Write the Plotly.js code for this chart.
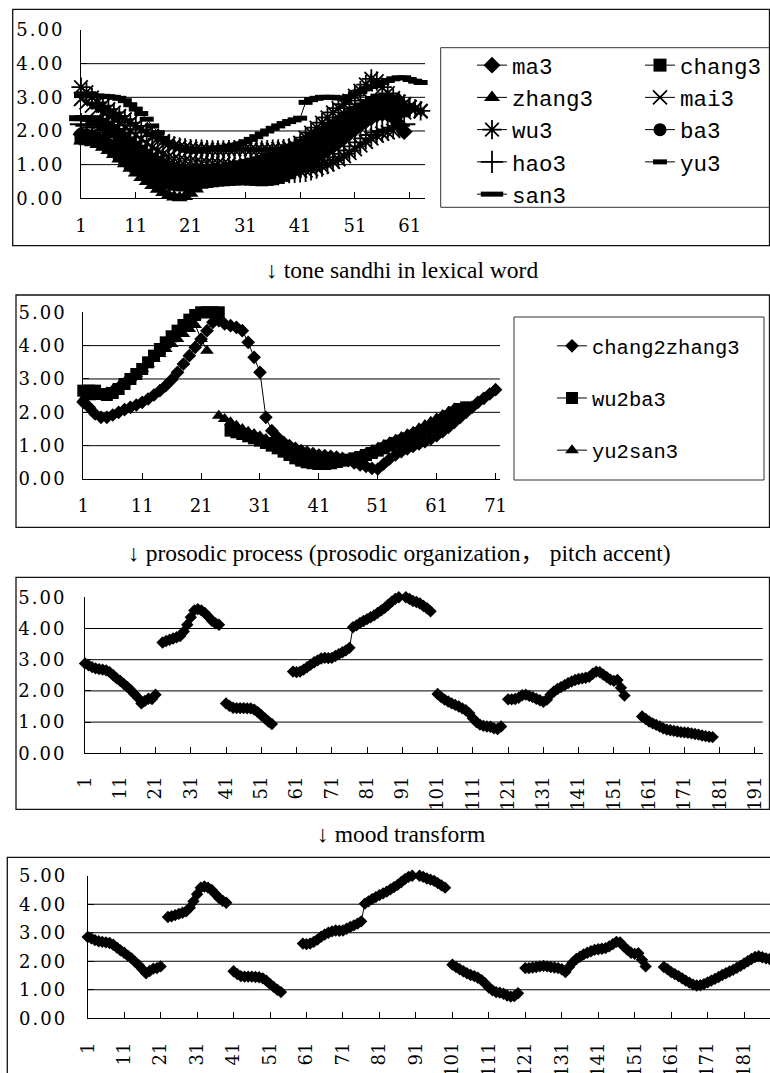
<!DOCTYPE html>
<html>
<head>
<meta charset="utf-8">
<script src="https://cdn.plot.ly/plotly-3.0.1.min.js"></script>
<style>
html,body{margin:0;padding:0;background:#fff;}
#chart{width:770px;height:1073px;}
.yaxislayer-above text{letter-spacing:2px;}
</style>
</head>
<body>
<div id="chart"></div>
<script>
// ---------- Panel 1: citation tones ----------
const ma3 = [1.90,1.85,1.80,1.72,1.64,1.56,1.48,1.40,1.32,1.24,
 1.16,1.08,1.00,0.93,0.86,0.80,0.75,0.70,0.68,0.66,
 0.65,0.65,0.66,0.67,0.68,0.69,0.70,0.70,0.71,0.72,
 0.72,0.73,0.74,0.75,0.76,0.78,0.80,0.83,0.87,0.92,
 0.98,1.05,1.13,1.22,1.32,1.43,1.55,1.67,1.80,1.93,
 2.06,2.18,2.30,2.40,2.48,2.52,2.50,2.40,2.20,1.98];
const chang3 = [1.80,1.78,1.75,1.70,1.62,1.52,1.40,1.28,1.16,1.05,
 0.95,0.85,0.75,0.66,0.58,0.50,0.45,0.42,0.40,0.40,
 0.42,0.45,0.48,0.50,0.52,0.54,0.55,0.56,0.57,0.58,
 0.58,0.57,0.56,0.55,0.56,0.58,0.62,0.68,0.76,0.86,
 0.98,1.10,1.22,1.35,1.48,1.60,1.73,1.86,1.98,2.10,
 2.22,2.34,2.46,2.58,2.68,2.76,2.82,2.80,2.70,2.60];
const zhang3 = [1.70,1.68,1.65,1.60,1.52,1.42,1.30,1.17,1.03,0.89,
 0.75,0.62,0.50,0.38,0.27,0.17,0.09,0.04,0.02,0.05,
 0.15,0.28,0.40,0.50,0.58,0.64,0.69,0.73,0.77,0.80,
 0.83,0.85,0.87,0.89,0.91,0.93,0.95,0.97,0.99,1.02,
 1.06,1.11,1.18,1.26,1.36,1.47,1.59,1.72,1.85,1.98,
 2.11,2.24,2.37,2.50,2.62,2.74,2.85,2.92,2.95];
const mai3 = [2.95,2.85,2.75,2.65,2.55,2.45,2.35,2.25,2.12,2.00,
 1.88,1.76,1.64,1.52,1.42,1.32,1.24,1.18,1.14,1.12,
 1.10,1.08,1.06,1.05,1.04,1.03,1.02,1.00,0.98,0.96,
 0.94,0.92,0.90,0.88,0.86,0.85,0.84,0.83,0.82,0.82,
 0.82,0.83,0.86,0.90,0.95,1.01,1.08,1.16,1.25,1.35,
 1.46,1.57,1.68,1.78,1.86,1.92,1.96,2.00,2.30,2.55,
 2.70,2.66,2.58,2.52];
const wu3 = [3.30,3.15,3.00,2.85,2.75,2.65,2.55,2.45,2.35,2.25,
 2.15,2.05,1.95,1.85,1.78,1.70,1.62,1.56,1.52,1.50,
 1.48,1.47,1.46,1.45,1.44,1.44,1.44,1.45,1.45,1.46,
 1.46,1.45,1.44,1.44,1.45,1.46,1.47,1.48,1.50,1.55,
 1.65,1.80,1.95,2.10,2.25,2.40,2.55,2.68,2.80,2.90,
 3.05,3.20,3.38,3.55,3.48,3.30,3.12,2.98,2.88,2.80,
 2.72,2.66,2.60,2.55];
const ba3 = [1.90,1.88,1.84,1.78,1.70,1.60,1.50,1.40,1.30,1.20,
 1.10,1.02,0.95,0.90,0.86,0.83,0.81,0.80,0.79,0.79,
 0.79,0.80,0.80,0.81,0.82,0.83,0.84,0.85,0.86,0.87,
 0.88,0.89,0.90,0.92,0.94,0.97,1.00,1.04,1.09,1.15,
 1.22,1.30,1.39,1.49,1.60,1.72,1.84,1.96,2.08,2.20,
 2.32,2.44,2.55,2.65,2.73,2.78,2.80,2.75,2.65];
const hao3 = [2.20,2.15,2.10,2.02,1.95,1.88,1.80,1.72,1.64,1.56,
 1.48,1.40,1.32,1.24,1.16,1.08,1.02,0.98,0.95,0.92,
 0.90,0.88,0.87,0.86,0.85,0.84,0.83,0.82,0.81,0.80,
 0.79,0.78,0.77,0.76,0.76,0.76,0.76,0.77,0.78,0.79,
 0.80,0.82,0.86,0.91,0.97,1.05,1.13,1.22,1.32,1.42,
 1.54,1.66,1.78,1.88,1.95,2.00,2.05,2.10,2.15,2.20];
const yu3 = [3.05,3.05,3.05,3.04,3.03,3.02,3.00,2.97,2.90,
 2.78,2.65,2.52,2.35,2.15,1.95,1.78,
 1.65,1.55,1.48,1.43,1.40,1.40,1.42,
 1.45,1.48,1.50,1.52,1.55,1.58,1.62,
 1.68,1.75,1.83,1.91,2.00,
 2.08,2.15,2.22,2.28,2.33,2.38,
 2.85,2.93,2.97,3.00,3.00,3.00,
 2.98,2.98,3.02,3.10,3.18,3.26,
 3.32,3.38,3.44,3.50,3.55,3.58,3.58,
 3.53,3.48,3.44];
const san3 = [2.38,2.38,2.36,2.30,2.22,2.12,2.00,1.88,1.75,1.62,
 1.50,1.38,1.26,1.15,1.05,0.97,0.90,0.84,0.80,0.78,
 0.77,0.77,0.78,0.80,0.82,0.85,0.88,0.92,0.96,1.00,
 1.04,1.08,1.12,1.16,1.20,1.25,1.30,1.36,1.42,1.50,
 1.58,1.67,1.76,1.86,1.96,2.06,2.16,2.26,2.36,2.46,
 2.56,2.66,2.76,2.86,2.95,3.02];

// ---------- Panel 2: tone sandhi in lexical word ----------
const chang2zhang3 = [2.30,2.15,1.95,1.85,1.85,1.92,2.00,2.08,2.15,2.22,
 2.30,2.40,2.52,2.65,2.80,2.98,3.20,3.45,3.70,3.95,
 4.20,4.45,4.70,4.75,4.65,4.60,4.55,4.45,4.10,3.65,
 3.20,1.85,1.45,1.25,1.10,1.00,0.92,0.85,0.80,0.76,
 0.72,0.70,0.68,0.66,0.62,0.55,0.48,0.42,0.38,0.32,
 0.30,0.45,0.60,0.72,0.82,0.90,0.98,1.05,1.12,1.20,
 1.30,1.42,1.55,1.70,1.85,2.00,2.15,2.30,2.42,2.55,
 2.68,2.62];
const wu2ba3 = [2.65,2.65,2.65,2.55,2.52,2.58,2.70,2.85,3.00,3.15,
 3.30,3.50,3.70,3.90,4.10,4.28,4.45,4.62,4.78,4.92,
 5.00,5.00,5.00,5.00,null,1.45,1.40,1.35,1.28,1.22,
 1.15,1.08,1.00,0.92,0.82,0.72,0.62,0.55,0.50,0.48,
 0.47,0.48,0.50,0.52,0.55,0.58,0.62,0.66,0.72,0.78,
 0.85,0.92,1.00,1.08,1.15,1.22,1.30,1.38,1.46,1.55,
 1.65,1.76,1.88,2.00,2.10,2.15];
const yu2san3 = [2.40,2.45,2.50,2.55,2.60,2.68,2.78,2.90,3.02,3.15,
 3.30,3.45,3.60,3.75,3.90,4.05,4.20,4.35,4.50,4.62,
 4.20,3.85,null,1.90,1.80,1.70,1.60,1.50,1.42,1.35,
 1.28,1.20,1.10,1.00,0.90,0.78,0.65,0.52,0.42,0.38,
 0.36,0.36,0.38,0.42,0.48,0.55,0.62,0.70,0.78,0.86,
 0.94,1.02,1.10,1.18,1.26,1.34,1.42,1.52,1.62,1.72,
 1.82,1.92,2.02,2.12];

// ---------- Panel 3: prosodic process ----------
const prosodicValues = [
 2.88,2.82,2.76,2.72,2.70,2.68,2.66,2.60,2.50,2.40,2.32,2.22,2.13,2.02,1.90,1.78,1.60,1.68,1.75,1.74,1.88,
 null,
 3.55,3.60,3.64,3.68,3.72,3.76,3.90,4.12,4.36,4.58,4.62,4.58,4.50,4.38,4.25,4.17,4.12,
 null,
 1.60,1.52,1.46,1.45,1.45,1.45,1.44,1.44,1.40,1.32,1.22,1.12,1.02,0.94,
 null,null,null,null,null,
 2.62,2.60,2.62,2.68,2.76,2.84,2.92,2.98,3.04,3.06,3.05,3.06,3.12,3.18,3.24,3.30,3.38,4.04,4.10,4.18,
 4.24,4.30,4.36,4.42,4.50,4.58,4.66,4.76,4.86,4.95,5.00,5.02,5.00,4.95,4.88,4.85,4.80,4.72,4.65,4.55,
 null,
 1.90,1.80,1.72,1.66,1.60,1.55,1.50,1.44,1.38,1.28,1.12,1.00,0.92,0.88,0.86,0.85,0.80,0.78,0.86,
 null,
 1.73,1.73,1.74,1.78,1.86,1.88,1.84,1.80,1.75,1.70,1.65,1.72,1.88,1.98,2.06,2.12,2.18,2.25,2.30,2.35,
 2.38,2.40,2.42,2.45,2.55,2.62,2.60,2.52,2.44,2.36,2.32,2.35,2.10,1.85,
 null,null,null,null,
 1.18,1.10,1.02,0.96,0.91,0.86,0.80,0.76,0.74,0.72,0.70,0.68,0.67,0.66,0.64,0.62,0.60,0.57,0.55,0.53,0.52
];

// ---------- Panel 4: mood transform ----------
const moodValues = [
 2.85,2.80,2.74,2.70,2.68,2.66,2.64,2.58,2.48,2.38,2.30,2.20,2.10,1.98,1.86,1.72,1.58,1.66,1.74,1.76,1.82,
 null,
 3.55,3.58,3.62,3.66,3.70,3.75,3.88,4.10,4.35,4.58,4.62,4.58,4.50,4.36,4.22,4.12,4.05,
 null,
 1.65,1.55,1.48,1.46,1.46,1.46,1.45,1.44,1.40,1.32,1.20,1.10,1.00,0.92,
 null,null,null,null,null,
 2.62,2.60,2.62,2.68,2.76,2.86,2.94,3.00,3.05,3.08,3.07,3.08,3.14,3.20,3.26,3.32,3.40,4.02,4.10,4.18,
 4.25,4.32,4.38,4.44,4.52,4.60,4.68,4.78,4.88,4.96,5.00,5.02,5.00,4.96,4.90,4.86,4.82,4.74,4.66,4.58,
 null,
 1.88,1.80,1.72,1.65,1.58,1.52,1.48,1.42,1.34,1.22,1.08,0.98,0.92,0.90,0.86,0.80,0.76,0.78,0.88,
 null,
 1.76,1.76,1.78,1.80,1.82,1.84,1.82,1.80,1.78,1.76,1.72,1.62,1.80,1.96,2.08,2.16,2.24,2.30,2.35,2.40,
 2.42,2.44,2.46,2.52,2.60,2.68,2.66,2.52,2.40,2.30,2.26,2.28,2.05,1.82,
 null,null,null,null,
 1.80,1.72,1.62,1.55,1.48,1.40,1.32,1.25,1.18,1.15,1.16,1.20,1.26,1.32,1.38,1.45,1.52,1.58,1.64,1.70,
 1.77,1.84,1.92,2.00,2.08,2.15,2.18,2.14,2.10,2.08,2.06
];

// ---------- Tick labels & captions ----------
const yTickValues = [0,1,2,3,4,5];
const gridValues = [1,2,3,4];
const p1TickLabels = ['1','11','21','31','41','51','61'];
const p2TickLabels = ['1','11','21','31','41','51','61','71'];
const p34TickLabels = ['1','11','21','31','41','51','61','71','81','91','101','111','121','131','141','151','161','171','181','191'];
const captions = ['↓ tone sandhi in lexical word',
  '↓ prosodic process (prosodic organization， pitch accent)',
  '↓ mood transform'];

// ---------- layout geometry (pixels) ----------
const W = 770, H = 1073;
const px = v => v / W;
const py = v => 1 - v / H;

const BLACK = '#000';
const tickFont = {family: 'DejaVu Serif, Liberation Serif, serif', size: 18, color: BLACK};

function seriesTrace(name, values, axisId, symbol, size, mlw, legendId, showlegend) {
  const open = ['x-thin','asterisk','cross-thin','line-ew'].includes(symbol);
  return {
    type: 'scatter', mode: 'lines+markers', name: name, legendgroup: name,
    x: values.map((_, i) => i + 1), y: values,
    xaxis: 'x' + (axisId === 1 ? '' : axisId), yaxis: 'y' + (axisId === 1 ? '' : axisId),
    line: {color: BLACK, width: 1},
    marker: {symbol: symbol, size: size, color: BLACK,
             line: {color: BLACK, width: open ? mlw : 0}},
    cliponaxis: false, connectgaps: false,
    showlegend: showlegend, legend: legendId || 'legend',
    hoverinfo: 'skip'
  };
}

const traces = [
  seriesTrace('ma3', ma3, 1, 'diamond', 13, 0, 'legend', true),
  seriesTrace('chang3', chang3, 1, 'square', 13, 0, 'legend2', true),
  seriesTrace('zhang3', zhang3, 1, 'triangle-up', 14, 0, 'legend', true),
  seriesTrace('mai3', mai3, 1, 'x-thin', 14, 1.8, 'legend2', true),
  seriesTrace('wu3', wu3, 1, 'asterisk', 16, 1.8, 'legend', true),
  seriesTrace('ba3', ba3, 1, 'circle', 13, 0, 'legend2', true),
  seriesTrace('hao3', hao3, 1, 'cross-thin', 16, 1.8, 'legend', true),
  seriesTrace('yu3', yu3, 1, 'line-ew', 10, 5, 'legend2', true),
  seriesTrace('san3', san3, 1, 'line-ew', 17, 6, 'legend', true),
  seriesTrace('chang2zhang3', chang2zhang3, 2, 'diamond', 10.5, 0, 'legend3', true),
  seriesTrace('wu2ba3', wu2ba3, 2, 'square', 12, 0, 'legend3', true),
  seriesTrace('yu2san3', yu2san3, 2, 'triangle-up', 12, 0, 'legend3', true),
  seriesTrace('prosodic', prosodicValues, 3, 'diamond', 9.5, 0, 'legend', false),
  seriesTrace('mood', moodValues, 4, 'diamond', 9.5, 0, 'legend', false)
];

function xAxis(domain, range, labels, anchor, angle, standoff) {
  return {
    domain: domain, range: range, anchor: anchor, type: 'linear',
    tickmode: 'array', tickvals: labels.map(Number), ticktext: labels,
    ticks: 'inside', ticklen: 6, tickwidth: 1, tickcolor: BLACK,
    showline: true, linecolor: BLACK, linewidth: 1, showgrid: false, zeroline: false,
    tickfont: tickFont, tickangle: angle, ticklabelstandoff: standoff, fixedrange: true
  };
}
function yAxis(domain, anchor, standoff) {
  return {
    domain: domain, range: [0, 5], anchor: anchor,
    tickmode: 'array', tickvals: yTickValues, tickformat: '.2f',
    ticks: 'inside', ticklen: 6, tickwidth: 1, tickcolor: BLACK,
    showline: true, linecolor: BLACK, linewidth: 1, showgrid: false, zeroline: false,
    tickfont: tickFont, ticklabelstandoff: standoff, fixedrange: true
  };
}

// panel plot areas
const P1 = {l: 81, r: 425, t: 30, b: 198.3, xr: [1, 63.8]};
const P2 = {l: 83.3, r: 500, t: 312.3, b: 479, xr: [1, 71.75]};
const P3 = {l: 85, r: 762.7, t: 597.3, b: 753.3, xr: [1, 193.2]};
const P4 = {l: 87.7, r: 770, t: 875.7, b: 1018.3, xr: [1, 188.1]};

const shapes = [];
// chart-area borders
[[12.7, 9.3, 769.5, 245.7], [16, 295, 769.5, 527.3], [16, 577.3, 769.5, 809.3], [7.3, 857.3, 775, 1080]]
  .forEach(b => shapes.push({type: 'rect', xref: 'paper', yref: 'paper', x0: px(b[0]), x1: px(b[2]),
    y0: py(b[1]), y1: py(b[3]), line: {color: '#111', width: 1.3}, layer: 'below'}));
// legend boxes
shapes.push({type: 'rect', xref: 'paper', yref: 'paper', x0: px(440.7), x1: px(775), y0: py(47.7), y1: py(207.3),
  line: {color: '#333', width: 1}, layer: 'below'});
shapes.push({type: 'rect', xref: 'paper', yref: 'paper', x0: px(514), x1: px(764), y0: py(317), y1: py(480),
  line: {color: '#333', width: 1}, layer: 'below'});
// horizontal gridlines
['', '2', '3', '4'].forEach(id => gridValues.forEach(v => shapes.push({
  type: 'line', xref: 'x' + id + ' domain', yref: 'y' + id, x0: 0, x1: 1, y0: v, y1: v,
  line: {color: BLACK, width: 1}, layer: 'below'})));

const annotations = [
  [captions[0], 402, 270], [captions[1], 400, 553], [captions[2], 401, 834]
].map(c => ({text: c[0], xref: 'paper', yref: 'paper', x: px(c[1]), y: py(c[2]),
  xanchor: 'center', yanchor: 'middle', showarrow: false,
  font: {family: 'Liberation Serif, Noto Sans CJK SC, serif', size: 23.5, color: BLACK}}));

const legendFont1 = {family: 'Liberation Mono, DejaVu Sans Mono, monospace', size: 22.5, color: BLACK};
const legendFont2 = {family: 'Liberation Mono, DejaVu Sans Mono, monospace', size: 20.5, color: BLACK};

const layout = {
  width: W, height: H, margin: {l: 0, r: 0, t: 0, b: 0},
  paper_bgcolor: '#fff', plot_bgcolor: 'rgba(0,0,0,0)',
  xaxis: xAxis([px(P1.l), px(P1.r)], P1.xr, p1TickLabels, 'y', 0, 11),
  yaxis: yAxis([py(P1.b), py(P1.t)], 'x', 12),
  xaxis2: xAxis([px(P2.l), px(P2.r)], P2.xr, p2TickLabels, 'y2', 0, 10),
  yaxis2: yAxis([py(P2.b), py(P2.t)], 'x2', 12),
  xaxis3: xAxis([px(P3.l), px(P3.r)], P3.xr, p34TickLabels, 'y3', -90, 15),
  yaxis3: yAxis([py(P3.b), py(P3.t)], 'x3', 14),
  xaxis4: xAxis([px(P4.l), Math.min(1, px(P4.r))], P4.xr, p34TickLabels, 'y4', -90, 16),
  yaxis4: yAxis([py(P4.b), py(P4.t)], 'x4', 16),
  legend: {x: px(472), y: py(44), xanchor: 'left', yanchor: 'top', bgcolor: 'rgba(0,0,0,0)',
           borderwidth: 0, font: legendFont1, traceorder: 'normal'},
  legend2: {x: px(640), y: py(44), xanchor: 'left', yanchor: 'top', bgcolor: 'rgba(0,0,0,0)',
           borderwidth: 0, font: legendFont1, traceorder: 'normal'},
  legend3: {x: px(552), y: py(326), xanchor: 'left', yanchor: 'top', bgcolor: 'rgba(0,0,0,0)',
           borderwidth: 0, font: legendFont2, traceorder: 'grouped', tracegroupgap: 22.5},
  shapes: shapes,
  annotations: annotations,
  showlegend: true,
  hovermode: false
};

Plotly.newPlot('chart', traces, layout, {staticPlot: true, displayModeBar: false});
</script>
</body>
</html>
